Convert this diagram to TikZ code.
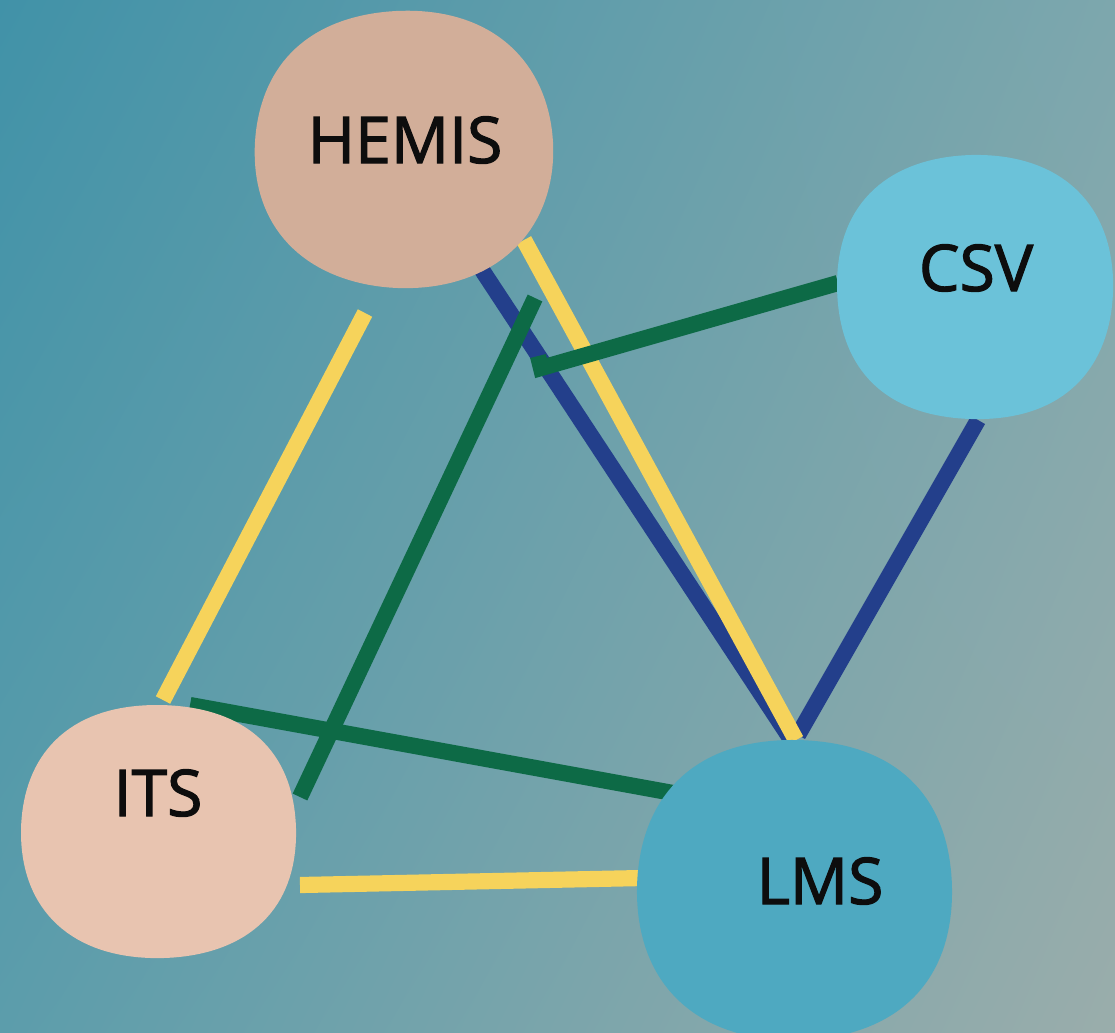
\documentclass[tikz,border=0pt]{standalone}
\usepackage{fontspec}
\setmainfont{Open Sans}
\newfontfamily\blobfont{Open Sans}[FakeBold=1.8]
\usetikzlibrary{positioning,shadings}

\definecolor{bgUL}{HTML}{4192A8}
\definecolor{bgUR}{HTML}{7DA7AD}
\definecolor{bgLL}{HTML}{5C9DAB}
\definecolor{bgLR}{HTML}{9AADAB}
\definecolor{hemisC}{HTML}{D2AE99}
\definecolor{itsC}{HTML}{E8C4B0}
\definecolor{csvC}{HTML}{6BC2D9}
\definecolor{lmsC}{HTML}{4EA9C1}
\definecolor{linkY}{HTML}{F6D35B}
\definecolor{linkG}{HTML}{0D6A46}
\definecolor{linkB}{HTML}{233F8B}

\begin{document}
\begin{tikzpicture}[x=0.01cm,y=-0.01cm,
  link/.style={line width=4.6pt},
  yel/.style={link,draw=linkY},
  grn/.style={link,draw=linkG},
  blu/.style={link,draw=linkB},
  blob/.style={domain=0:360,samples=145,variable=\t},
  sysname/.style={font=\blobfont\fontsize{18.3}{21}\selectfont,text=black!95,inner sep=0pt}]
\useasboundingbox (0,0) rectangle (1115,1032);
\clip (0,0) rectangle (1115,1032);
% background
\shade[upper left=bgUL,upper right=bgUR,lower left=bgLL,lower right=bgLR]
  (0,0) rectangle (1115,1032);

% line ends
\coordinate (hi1) at (365,313);  \coordinate (hi2) at (163,700);
\coordinate (hl1) at (524,240);  \coordinate (hl2) at (796,740);
\coordinate (hb1) at (482,270);  \coordinate (hb2) at (790,738);
\coordinate (cl1) at (978,420);  \coordinate (cl2) at (798,735);
\coordinate (cg1) at (838,283);  \coordinate (cg2) at (541,368);
\coordinate (cg3) at (538,356);
\coordinate (ig1) at (535,298);  \coordinate (ig2) at (300,797);
\coordinate (il1) at (190,705);  \coordinate (il2) at (684,795);
\coordinate (iy1) at (300,885);  \coordinate (iy2) at (642,878);

% links
\draw[yel] (hi1) -- (hi2);
\draw[blu] (hb1) -- (hb2);
\draw[blu] (cl1) -- (cl2);
\draw[yel] (hl1) -- (hl2);
\draw[grn] (ig1) -- (ig2);
\draw[grn] (cg1) -- (cg2) -- (cg3);
\draw[grn] (il1) -- (il2);
\draw[yel] (iy1) -- (iy2);

% blobs
\fill[hemisC] plot[blob]
  ({396.5+151.3*(1+0.07*cos(\t-45)-0.015*cos(4*\t))*cos(\t)},
   {142.5+140.6*(1+0.07*cos(\t-45)-0.015*cos(4*\t))*sin(\t)}) -- cycle;
\fill[csvC] plot[blob]
  ({971.1+140.8*(1+0.04*cos(\t-315)-0.02*cos(4*\t))*cos(\t)},
   {290.8+134.7*(1+0.04*cos(\t-315)-0.02*cos(4*\t))*sin(\t)}) -- cycle;
\fill[itsC] plot[blob]
  ({161.5+140.3*(1+0.03*cos(\t-135)-0.02*cos(4*\t))*cos(\t)},
   {828.8+129.1*(1+0.03*cos(\t-135)-0.02*cos(4*\t))*sin(\t)}) -- cycle;
\fill[lmsC] plot[blob]
  ({797.9+160.7*(1+0.03*cos(\t-135)-0.02*cos(4*\t))*cos(\t)},
   {886.8+153.1*(1+0.03*cos(\t-135)-0.02*cos(4*\t))*sin(\t)}) -- cycle;

% names
\node[sysname] (HEMIS) at (405,140) {HEMIS};
\node[sysname] (CSV) at (976,268) {CSV};
\node[sysname] (ITS) at (158,793) {ITS};
\node[sysname] (LMS) at (820,881) {LMS};
\end{tikzpicture}
\end{document}
